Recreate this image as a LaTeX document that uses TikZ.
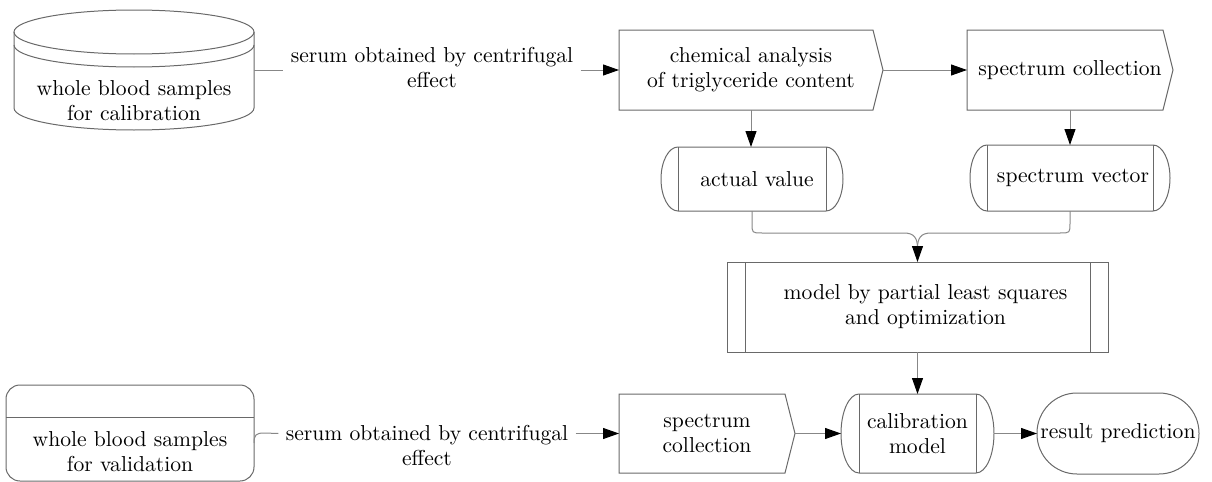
\documentclass[tikz,border=0pt]{standalone}
\usetikzlibrary{arrows.meta,calc}
\definecolor{boxc}{RGB}{105,105,105}
\definecolor{conc}{RGB}{135,135,135}
\tikzset{
  box/.style={draw=boxc,line width=0.5pt},
  conn/.style={draw=conc,line width=0.5pt},
  arr/.style={conn,-{Triangle[length=8pt,width=5.5pt,color=black]}},
  holder/.style={inner sep=0pt,outer sep=0pt,align=center},
  txt/.style={align=center,inner sep=0pt,inner xsep=3.5pt}
}
\newcommand{\mysig}[2]{%
  \draw[box] (#1.north west) -- ($(#1.north east)+(-#2,0)$) -- (#1.east)
    -- ($(#1.south east)+(-#2,0)$) -- (#1.south west) -- cycle;}
\newcommand{\mystore}[3]{%
  \draw[box] ($(#1.north west)+(#2,0)$) -- ($(#1.north east)+(-#2,0)$)
    arc[start angle=90,end angle=-90,x radius=#2*0.5pt,y radius=#3]
    -- ($(#1.south west)+(#2,0)$)
    arc[start angle=270,end angle=90,x radius=#2*0.5pt,y radius=#3] -- cycle;
  \draw[box] ($(#1.north west)+(#2,0)$) -- ($(#1.south west)+(#2,0)$);
  \draw[box] ($(#1.north east)+(-#2,0)$) -- ($(#1.south east)+(-#2,0)$);}
\begin{document}
\begin{tikzpicture}[x=0.5pt,y=-0.5pt,font=\fontsize{10.8}{12.5}\selectfont]
\useasboundingbox (0,0) rectangle (1212,482);
% cylinder (calibration samples)
\draw[box] (14,32) -- (14,108) arc[start angle=180,end angle=360,x radius=60pt,y radius=11pt] -- (254,32);
\draw[box] (134,32) ellipse[x radius=60pt,y radius=11pt];
\draw[box] (14,45) arc[start angle=180,end angle=360,x radius=60pt,y radius=11pt];
\node[holder,minimum width=120pt,minimum height=60pt] (calb) at (134,70) {};
\node[holder] (calbtxt) at (134,100.5) {whole blood samples\\for calibration};
% top row
\node[txt] (serum1) at (432,68) {serum obtained by centrifugal\\effect};
\node[holder,minimum width=132pt,minimum height=40pt] (chem) at (751,70) {chemical analysis\\of triglyceride content};
\mysig{chem}{10}
\node[holder,minimum width=103pt,minimum height=40pt] (spec1) at (1070,70) {spectrum collection};
\mysig{spec1}{10}
% stored data shapes
\node[holder,minimum width=91pt,minimum height=32pt] (actual) at (752,179) {\hspace{5pt}actual value};
\mystore{actual}{17}{16pt}
\node[holder,minimum width=100pt,minimum height=33pt] (specvec) at (1070,178) {\hspace{3pt}spectrum vector};
\mystore{specvec}{17}{16.5pt}
% model
\node[box,holder,minimum width=190.5pt,minimum height=45pt] (model) at (917.5,307) {\hspace{8pt}model by partial least squares\\\hspace{8pt}and optimization};
\draw[box] ($(model.north west)+(18,0)$) -- ($(model.south west)+(18,0)$);
\draw[box] ($(model.north east)+(-18,0)$) -- ($(model.south east)+(-18,0)$);
% bottom row
\node[box,holder,rounded corners=7pt,minimum width=124pt,minimum height=48pt] (valb) at (130,433) {};
\draw[box] ($(valb.north west)+(0,32)$) -- ($(valb.north east)+(0,32)$);
\node[holder] (valtxt) at (130,452) {whole blood samples\\for validation};
\node[txt] (serum2) at (427,445.5) {serum obtained by centrifugal\\effect};
\node[holder,minimum width=88pt,minimum height=39.5pt] (spec2) at (707,433.5) {spectrum\\collection};
\mysig{spec2}{10}
\node[holder,minimum width=76.5pt,minimum height=39.5pt] (calm) at (917.5,433.5) {calibration\\model};
\mystore{calm}{18}{19.75pt}
\node[box,holder,rounded corners=20pt,minimum width=81pt,minimum height=40.5pt] (result) at (1118,433.5) {result prediction};
% connectors
\draw[conn] (calb.east) -- (serum1.west |- calb.east);
\draw[arr] (serum1.east |- chem.west) -- (chem.west);
\draw[arr] (chem.east) -- (spec1.west);
\draw[arr] (chem.south) -- (chem.south |- actual.north);
\draw[arr] (spec1.south) -- (spec1.south |- specvec.north);
\coordinate (mj) at (917.5,248);
\draw[conn] (actual.south) -- (752,223) .. controls (752,233) .. (762,233) -- (904,233) .. controls (914,233) and (917.5,238) .. (mj);
\draw[conn] (specvec.south) -- (1070,223) .. controls (1070,233) .. (1060,233) -- (931,233) .. controls (921,233) and (917.5,238) .. (mj);
\draw[arr] (mj) -- (model.north);
\draw[arr] (model.south) -- (calm.north);
\coordinate (valE) at ($(valb.east)+(0,10)$);
\draw[conn] (valE) .. controls (254,435) and (256,433) .. (264,433) -- (serum2.west |- spec2.west);
\draw[arr] (serum2.east |- spec2.west) -- (spec2.west);
\draw[arr] (spec2.east) -- (calm.west);
\draw[arr] (calm.east) -- (result.west);
\end{tikzpicture}
\end{document}
